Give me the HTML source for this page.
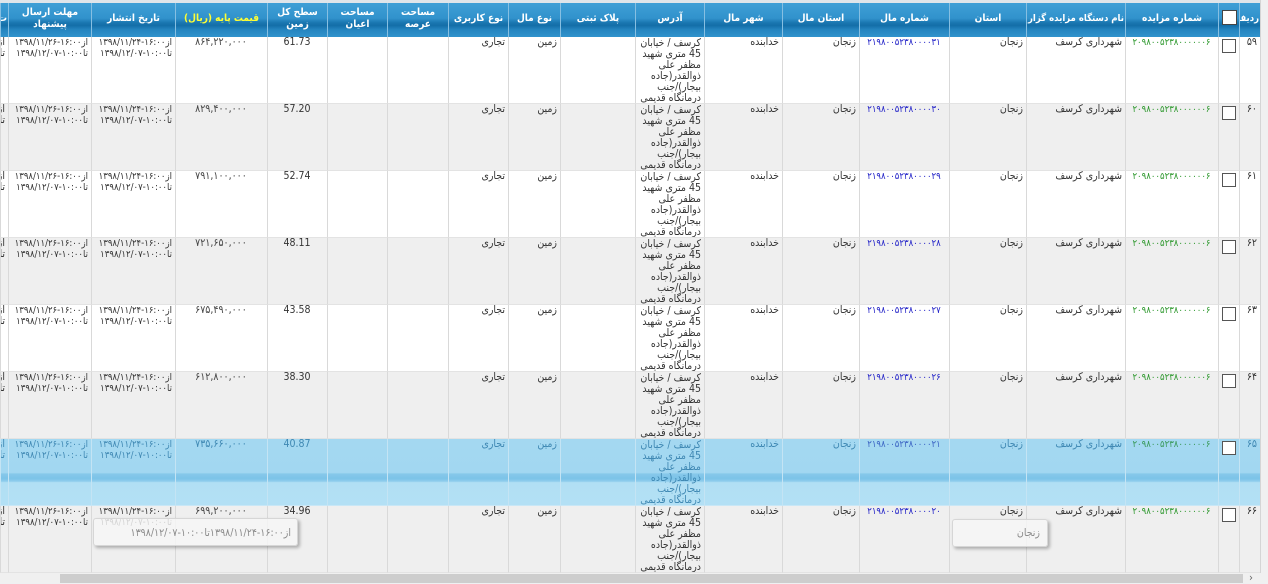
<!DOCTYPE html>
<html><head><meta charset="utf-8">
<style>
html,body{margin:0;padding:0}
body{width:1268px;height:583px;overflow:hidden;position:relative;background:#eef0f2;font-family:Tahoma,"DejaVu Sans Condensed","DejaVu Sans",sans-serif}
.wrap{position:absolute;left:0;top:0;width:1260px;height:573px;overflow:hidden;background:#dfe5ea}
table{position:absolute;top:3px;left:0;width:1260px;table-layout:fixed;border-collapse:separate;border-spacing:0;direction:rtl}
th{padding:0 1px 3px 1px;color:#fff;font-weight:bold;font-size:10px;line-height:12px;text-align:center;vertical-align:middle;border-left:1px solid #86bfe2;background:linear-gradient(#3f9fd6 0%,#3192cc 45%,#1a76b0 58%,#136ea8 66%,#2484bf 78%,#3193cd 100%);white-space:nowrap;overflow:hidden}
th.sm{font-size:9.5px;letter-spacing:-0.3px}
tr.h{height:34px}
tr.r{height:67px}
td{padding:0 3px 0 2px;vertical-align:top;font-size:10.5px;line-height:11px;color:#333;border-left:1px solid #d9d9d9;border-bottom:1px solid #e3e3e3;white-space:nowrap;overflow:hidden;text-align:right;background:#fff}
td>div.in{height:66px;overflow:hidden;padding-top:1px;box-sizing:border-box}
tr.a td{background:#efefef}
tr.hl td{background:linear-gradient(#a4d8f1 0%,#a2d7f1 51%,#86c8ea 53%,#7cc3e8 60%,#8fcdec 64%,#b1dff4 66%,#b3e0f5 100%);color:#3f88b3;border-left-color:#c4e4f4;border-bottom-color:#c9e7f6}
td.c{text-align:center}
.g{color:#2f992f;font-size:9.5px;letter-spacing:-0.6px}
.b{color:#2424c8;font-size:9.5px;letter-spacing:-0.6px}
tr.hl .b{color:#3d66c4}
tr.hl .g{color:#3a9a5a}
.pr{font-size:10.5px;color:#444}
tr.hl .pr{color:#3f88b3}
.d{font-size:9.5px;letter-spacing:-0.3px}
td.cb{text-align:center;padding:0}
td.cb i{display:inline-block;width:12px;height:12px;border:1px solid #555;background:#fff;margin-top:2px}
th.cb i{display:inline-block;width:13px;height:13px;border:1px solid #444;background:#fff;margin-top:2px}
.y{color:#ffff33}
.tip{position:absolute;background:rgba(246,246,246,0.82);border:1px solid #d6d6d6;border-radius:3px;box-shadow:2px 2px 3px rgba(0,0,0,0.28);color:#8a8a8a;font-size:10.5px;line-height:12px;direction:rtl;text-align:right;white-space:nowrap}
.sb{position:absolute;left:0;top:573px;width:1268px;height:10px;background:#f0f0f0}
.th{position:absolute;left:60px;top:1px;width:1183px;height:9px;background:#cdcdcd}
.ar{position:absolute;left:1249px;top:-2px;font-size:11px;color:#666}
.vs{position:absolute;left:1260px;top:0;width:8px;height:573px;background:#f0f0f0;border-left:1px solid #d5d5d5}
</style></head>
<body>
<div class="wrap">
<table>
<colgroup>
<col style="width:21px"><col style="width:21px"><col style="width:93px"><col style="width:99px"><col style="width:77px"><col style="width:90px"><col style="width:77px"><col style="width:78px"><col style="width:69px"><col style="width:75px"><col style="width:52px"><col style="width:60px"><col style="width:61px"><col style="width:60px"><col style="width:60px"><col style="width:92px"><col style="width:84px"><col style="width:83px"><col style="width:8px">
</colgroup>
<tr class="h">
<th class="sm">ردیف</th><th class="cb"><i></i></th><th>شماره مزایده</th><th class="sm">نام دستگاه مزایده گزار</th><th>استان</th><th>شماره مال</th><th>استان مال</th><th>شهر مال</th><th>آدرس</th><th>پلاک ثبتی</th><th>نوع مال</th><th>نوع کاربری</th><th>مساحت<br>عرصه</th><th>مساحت<br>اعیان</th><th>سطح کل<br>زمین</th><th><span class="y">قیمت پایه (ریال)</span></th><th>تاریخ انتشار</th><th>مهلت ارسال<br>پیشنهاد</th><th>ت</th>
</tr>

<tr class="r">
<td>۵۹</td><td class="cb"><i></i></td><td class="c"><span class="g">۲۰۹۸۰۰۵۲۳۸۰۰۰۰۰۰۶</span></td><td>شهرداری کرسف</td><td>زنجان</td><td class="c"><span class="b">۲۱۹۸۰۰۵۲۳۸۰۰۰۰۳۱</span></td><td>زنجان</td><td>خدابنده</td><td><div class="in">کرسف / خیابان<br>45 متری شهید<br>مظفر علی<br>ذوالقدر(جاده<br>بیجار)/جنب<br>درمانگاه قدیمی</div></td><td></td><td>زمین</td><td>تجاری</td><td></td><td></td><td class="c">61.73</td><td class="c"><span class="pr">۸۶۴,۲۲۰,۰۰۰</span></td><td class="d">از<span dir="ltr">۱۳۹۸/۱۱/۲۴-۱۶:۰۰</span><br>تا<span dir="ltr">۱۳۹۸/۱۲/۰۷-۱۰:۰۰</span></td><td class="d">از<span dir="ltr">۱۳۹۸/۱۱/۲۶-۱۶:۰۰</span><br>تا<span dir="ltr">۱۳۹۸/۱۲/۰۷-۱۰:۰۰</span></td><td>از<br>تا</td>
</tr>

<tr class="r a">
<td>۶۰</td><td class="cb"><i></i></td><td class="c"><span class="g">۲۰۹۸۰۰۵۲۳۸۰۰۰۰۰۰۶</span></td><td>شهرداری کرسف</td><td>زنجان</td><td class="c"><span class="b">۲۱۹۸۰۰۵۲۳۸۰۰۰۰۳۰</span></td><td>زنجان</td><td>خدابنده</td><td><div class="in">کرسف / خیابان<br>45 متری شهید<br>مظفر علی<br>ذوالقدر(جاده<br>بیجار)/جنب<br>درمانگاه قدیمی</div></td><td></td><td>زمین</td><td>تجاری</td><td></td><td></td><td class="c">57.20</td><td class="c"><span class="pr">۸۲۹,۴۰۰,۰۰۰</span></td><td class="d">از<span dir="ltr">۱۳۹۸/۱۱/۲۴-۱۶:۰۰</span><br>تا<span dir="ltr">۱۳۹۸/۱۲/۰۷-۱۰:۰۰</span></td><td class="d">از<span dir="ltr">۱۳۹۸/۱۱/۲۶-۱۶:۰۰</span><br>تا<span dir="ltr">۱۳۹۸/۱۲/۰۷-۱۰:۰۰</span></td><td>از<br>تا</td>
</tr>

<tr class="r">
<td>۶۱</td><td class="cb"><i></i></td><td class="c"><span class="g">۲۰۹۸۰۰۵۲۳۸۰۰۰۰۰۰۶</span></td><td>شهرداری کرسف</td><td>زنجان</td><td class="c"><span class="b">۲۱۹۸۰۰۵۲۳۸۰۰۰۰۲۹</span></td><td>زنجان</td><td>خدابنده</td><td><div class="in">کرسف / خیابان<br>45 متری شهید<br>مظفر علی<br>ذوالقدر(جاده<br>بیجار)/جنب<br>درمانگاه قدیمی</div></td><td></td><td>زمین</td><td>تجاری</td><td></td><td></td><td class="c">52.74</td><td class="c"><span class="pr">۷۹۱,۱۰۰,۰۰۰</span></td><td class="d">از<span dir="ltr">۱۳۹۸/۱۱/۲۴-۱۶:۰۰</span><br>تا<span dir="ltr">۱۳۹۸/۱۲/۰۷-۱۰:۰۰</span></td><td class="d">از<span dir="ltr">۱۳۹۸/۱۱/۲۶-۱۶:۰۰</span><br>تا<span dir="ltr">۱۳۹۸/۱۲/۰۷-۱۰:۰۰</span></td><td>از<br>تا</td>
</tr>

<tr class="r a">
<td>۶۲</td><td class="cb"><i></i></td><td class="c"><span class="g">۲۰۹۸۰۰۵۲۳۸۰۰۰۰۰۰۶</span></td><td>شهرداری کرسف</td><td>زنجان</td><td class="c"><span class="b">۲۱۹۸۰۰۵۲۳۸۰۰۰۰۲۸</span></td><td>زنجان</td><td>خدابنده</td><td><div class="in">کرسف / خیابان<br>45 متری شهید<br>مظفر علی<br>ذوالقدر(جاده<br>بیجار)/جنب<br>درمانگاه قدیمی</div></td><td></td><td>زمین</td><td>تجاری</td><td></td><td></td><td class="c">48.11</td><td class="c"><span class="pr">۷۲۱,۶۵۰,۰۰۰</span></td><td class="d">از<span dir="ltr">۱۳۹۸/۱۱/۲۴-۱۶:۰۰</span><br>تا<span dir="ltr">۱۳۹۸/۱۲/۰۷-۱۰:۰۰</span></td><td class="d">از<span dir="ltr">۱۳۹۸/۱۱/۲۶-۱۶:۰۰</span><br>تا<span dir="ltr">۱۳۹۸/۱۲/۰۷-۱۰:۰۰</span></td><td>از<br>تا</td>
</tr>

<tr class="r">
<td>۶۳</td><td class="cb"><i></i></td><td class="c"><span class="g">۲۰۹۸۰۰۵۲۳۸۰۰۰۰۰۰۶</span></td><td>شهرداری کرسف</td><td>زنجان</td><td class="c"><span class="b">۲۱۹۸۰۰۵۲۳۸۰۰۰۰۲۷</span></td><td>زنجان</td><td>خدابنده</td><td><div class="in">کرسف / خیابان<br>45 متری شهید<br>مظفر علی<br>ذوالقدر(جاده<br>بیجار)/جنب<br>درمانگاه قدیمی</div></td><td></td><td>زمین</td><td>تجاری</td><td></td><td></td><td class="c">43.58</td><td class="c"><span class="pr">۶۷۵,۴۹۰,۰۰۰</span></td><td class="d">از<span dir="ltr">۱۳۹۸/۱۱/۲۴-۱۶:۰۰</span><br>تا<span dir="ltr">۱۳۹۸/۱۲/۰۷-۱۰:۰۰</span></td><td class="d">از<span dir="ltr">۱۳۹۸/۱۱/۲۶-۱۶:۰۰</span><br>تا<span dir="ltr">۱۳۹۸/۱۲/۰۷-۱۰:۰۰</span></td><td>از<br>تا</td>
</tr>

<tr class="r a">
<td>۶۴</td><td class="cb"><i></i></td><td class="c"><span class="g">۲۰۹۸۰۰۵۲۳۸۰۰۰۰۰۰۶</span></td><td>شهرداری کرسف</td><td>زنجان</td><td class="c"><span class="b">۲۱۹۸۰۰۵۲۳۸۰۰۰۰۲۶</span></td><td>زنجان</td><td>خدابنده</td><td><div class="in">کرسف / خیابان<br>45 متری شهید<br>مظفر علی<br>ذوالقدر(جاده<br>بیجار)/جنب<br>درمانگاه قدیمی</div></td><td></td><td>زمین</td><td>تجاری</td><td></td><td></td><td class="c">38.30</td><td class="c"><span class="pr">۶۱۲,۸۰۰,۰۰۰</span></td><td class="d">از<span dir="ltr">۱۳۹۸/۱۱/۲۴-۱۶:۰۰</span><br>تا<span dir="ltr">۱۳۹۸/۱۲/۰۷-۱۰:۰۰</span></td><td class="d">از<span dir="ltr">۱۳۹۸/۱۱/۲۶-۱۶:۰۰</span><br>تا<span dir="ltr">۱۳۹۸/۱۲/۰۷-۱۰:۰۰</span></td><td>از<br>تا</td>
</tr>

<tr class="r hl">
<td>۶۵</td><td class="cb"><i></i></td><td class="c"><span class="g">۲۰۹۸۰۰۵۲۳۸۰۰۰۰۰۰۶</span></td><td>شهرداری کرسف</td><td>زنجان</td><td class="c"><span class="b">۲۱۹۸۰۰۵۲۳۸۰۰۰۰۲۱</span></td><td>زنجان</td><td>خدابنده</td><td><div class="in">کرسف / خیابان<br>45 متری شهید<br>مظفر علی<br>ذوالقدر(جاده<br>بیجار)/جنب<br>درمانگاه قدیمی</div></td><td></td><td>زمین</td><td>تجاری</td><td></td><td></td><td class="c">40.87</td><td class="c"><span class="pr">۷۳۵,۶۶۰,۰۰۰</span></td><td class="d">از<span dir="ltr">۱۳۹۸/۱۱/۲۴-۱۶:۰۰</span><br>تا<span dir="ltr">۱۳۹۸/۱۲/۰۷-۱۰:۰۰</span></td><td class="d">از<span dir="ltr">۱۳۹۸/۱۱/۲۶-۱۶:۰۰</span><br>تا<span dir="ltr">۱۳۹۸/۱۲/۰۷-۱۰:۰۰</span></td><td>از<br>تا</td>
</tr>

<tr class="r a">
<td>۶۶</td><td class="cb"><i></i></td><td class="c"><span class="g">۲۰۹۸۰۰۵۲۳۸۰۰۰۰۰۰۶</span></td><td>شهرداری کرسف</td><td>زنجان</td><td class="c"><span class="b">۲۱۹۸۰۰۵۲۳۸۰۰۰۰۲۰</span></td><td>زنجان</td><td>خدابنده</td><td><div class="in">کرسف / خیابان<br>45 متری شهید<br>مظفر علی<br>ذوالقدر(جاده<br>بیجار)/جنب<br>درمانگاه قدیمی</div></td><td></td><td>زمین</td><td>تجاری</td><td></td><td></td><td class="c">34.96</td><td class="c"><span class="pr">۶۹۹,۲۰۰,۰۰۰</span></td><td class="d">از<span dir="ltr">۱۳۹۸/۱۱/۲۴-۱۶:۰۰</span><br>تا<span dir="ltr">۱۳۹۸/۱۲/۰۷-۱۰:۰۰</span></td><td class="d">از<span dir="ltr">۱۳۹۸/۱۱/۲۶-۱۶:۰۰</span><br>تا<span dir="ltr">۱۳۹۸/۱۲/۰۷-۱۰:۰۰</span></td><td>از<br>تا</td>
</tr>
</table>

<div class="tip" style="left:93px;top:518px;width:203px;height:26px;"><div style="padding:8px 6px 0 0">از<span dir="ltr">۱۳۹۸/۱۱/۲۴-۱۶:۰۰</span>تا<span dir="ltr">۱۳۹۸/۱۲/۰۷-۱۰:۰۰</span></div></div>
<div class="tip" style="left:952px;top:519px;width:94px;height:26px;"><div style="padding:7px 7px 0 0">زنجان</div></div>
</div>
<div class="vs"></div>
<div class="sb"><div class="th"></div><div class="ar">›</div></div>
</body></html>
